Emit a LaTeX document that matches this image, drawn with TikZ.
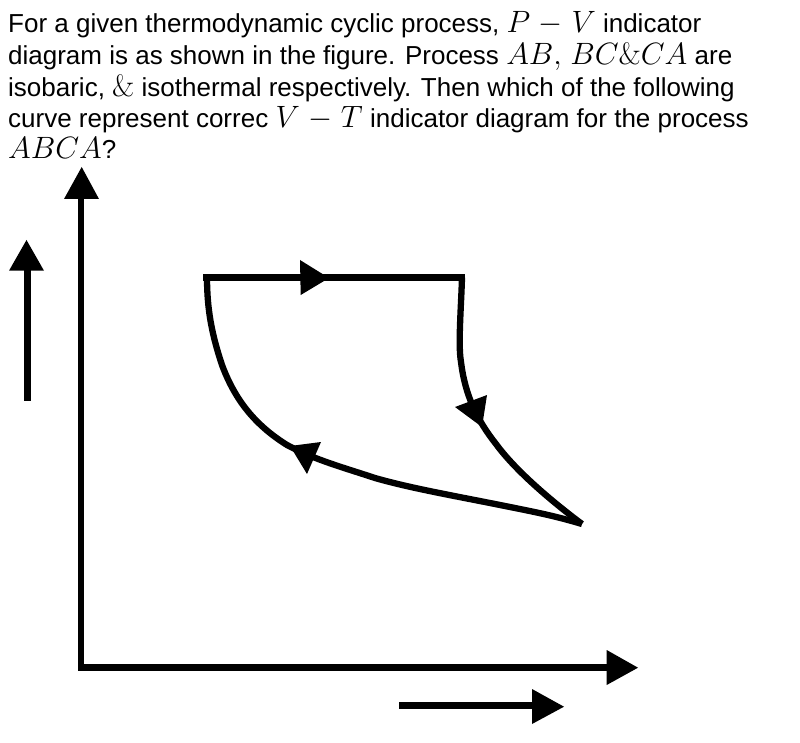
\documentclass[tikz,border=0pt]{standalone}
\usepackage[no-math]{fontspec}
\setmainfont{Liberation Sans}
\tikzset{
 txt/.style={anchor=base west,inner sep=0pt,font=\fontsize{26pt}{30pt}\selectfont},
 curve/.style={line width=6.3pt,black,line join=round},
 axis/.style={line width=6.5pt,black,line join=miter},
 tipfill/.style={fill=black,draw=none}
}
\newcommand{\mth}[1]{\scalebox{1.24}{$#1$}}
\begin{document}
\begin{tikzpicture}[x=1pt,y=-1pt]
\useasboundingbox (0,0) rectangle (800,743);
\fill[white] (0,0) rectangle (800,743);
\node[txt] (l1) at (8,33) {For a given thermodynamic cyclic process, \mth{P\mskip1mu-\mskip1mu V} indicator};
\node[txt] (l2) at (8,65) {diagram is as shown in the figure. Process \mth{AB{,}\mskip5mu BC\&CA} are};
\node[txt] (l3) at (8,97) {isobaric, \mth{\&} isothermal respectively. Then which of the following};
\node[txt] (l4) at (8,128) {curve represent correc \mth{V\mskip1mu-\mskip1mu T} indicator diagram for the process};
\node[txt] (l5) at (8,159) {\mth{ABCA}?};
\draw[axis] (81,195) -- (81,667.5) -- (610,667.5);
\fill[tipfill] (64,199) -- (81.7,167) -- (99,199) -- cycle;
\fill[tipfill] (606.7,650) -- (638,667.7) -- (606.7,685) -- cycle;
\draw[axis] (27.3,400.7) -- (27.3,268);
\fill[tipfill] (9,270.7) -- (26.5,240) -- (44,270.7) -- cycle;
\draw[axis] (399,705.7) -- (536,705.7);
\fill[tipfill] (532,689) -- (564,706.7) -- (532,724) -- cycle;
\coordinate (A) at (207,277.5);
\coordinate (B) at (462,277.5);
\coordinate (C) at (582,524);
\draw[curve] (203,277.5) -- (465,277.5);
\draw[curve] (B) .. controls (461,310) and (458,345) .. (461,362) .. controls (465,395) and (477,420) .. (496,444) .. controls (515,470) and (550,500) .. (C);
\draw[curve] (C) .. controls (555,516) and (540,513) .. (500,505) .. controls (450,495) and (410,488) .. (375,478) .. controls (345,468) and (315,460) .. (287,445) .. controls (255,425) and (235,400) .. (222,365) .. controls (212,335) and (207,310) .. (A);
\fill[tipfill] (300,260) -- (329,278) -- (300.7,295) -- cycle;
\fill[tipfill] (455,407) -- (487,395) -- (482,427) -- cycle;
\fill[tipfill] (290,446) -- (321,442) -- (307,474) -- cycle;
\end{tikzpicture}
\end{document}
